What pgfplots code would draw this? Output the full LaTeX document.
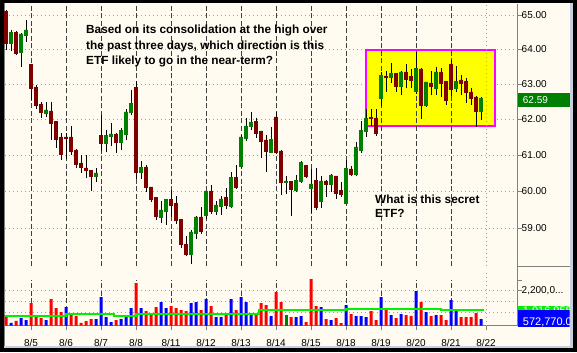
\documentclass[border=0pt]{standalone}
\usepackage{pgfplots}
\pgfplotsset{compat=1.18}
\usepackage{pgfplotstable}
\usepackage{fontspec}
\setmainfont{Liberation Sans}
\definecolor{bg}{HTML}{FFFBF0}
\definecolor{axgray}{HTML}{808080}
\definecolor{gridgray}{HTML}{A0A0A0}
\definecolor{daycol}{HTML}{404040}
\definecolor{cgreen}{HTML}{008000}
\definecolor{cred}{HTML}{800000}
\definecolor{vred}{HTML}{FF0000}
\definecolor{vblue}{HTML}{0000FF}
\definecolor{mag}{HTML}{FF00FF}
\definecolor{yel}{HTML}{FFFF00}
\definecolor{lime}{HTML}{00F000}
\definecolor{edge}{HTML}{C8D0E0}
\pgfdeclareplotmark{wick}{%
  \pgfpathmoveto{\pgfpointorigin}%
  \pgfpathlineto{\pgfpoint{0pt}{\wl bp}}%
  \pgfusepathqstroke}
\pgfdeclareplotmark{body}{%
  \pgfpathrectangle{\pgfpoint{-1.7bp}{0pt}}{\pgfpoint{3.4bp}{\bh bp}}%
  \pgfusepathqfill}
\pgfplotstableread{
i o h l c v vc
0 65.12 65.15 63.98 64.17 0.66 0
1 64.16 64.56 63.95 64.50 0.17 1
2 64.50 64.53 63.83 63.86 0.30 0
3 63.88 64.47 63.50 64.45 0.47 1
4 64.40 64.85 64.21 64.57 0.34 1
5 63.57 63.58 62.54 62.85 1.42 0
6 62.91 62.97 62.29 62.37 0.61 0
7 62.43 62.49 62.04 62.16 0.47 0
8 62.14 62.49 62.07 62.26 0.34 1
9 62.23 62.49 61.42 61.86 1.67 0
10 61.94 61.95 61.20 61.42 1.10 0
11 61.51 61.60 60.87 60.99 0.85 0
12 61.51 61.60 60.88 61.44 1.17 1
13 61.51 61.81 61.00 61.07 0.66 0
14 61.15 61.16 60.63 60.72 0.61 0
15 60.79 61.00 60.49 60.65 0.17 0
16 60.65 61.00 60.35 60.56 0.28 0
17 60.58 60.59 60.01 60.38 0.40 0
18 60.38 60.63 60.26 60.51 0.40 1
19 61.55 62.11 61.12 61.30 1.80 1
20 61.30 61.69 61.07 61.55 0.53 1
21 61.49 61.90 61.25 61.58 0.21 1
22 61.58 61.62 61.06 61.32 0.34 0
23 61.32 61.74 61.14 61.69 0.40 1
24 61.55 62.28 61.42 62.21 0.61 1
25 62.18 62.83 62.11 62.45 1.10 1
26 62.91 63.09 60.33 60.51 2.69 0
27 60.49 60.84 60.33 60.66 1.10 1
28 60.67 60.72 59.99 60.08 0.91 0
29 60.12 60.13 59.71 59.76 0.72 0
30 59.84 59.85 59.22 59.31 1.17 0
31 59.27 59.74 59.13 59.49 1.48 1
32 59.45 59.78 59.09 59.78 1.10 1
33 59.78 60.03 59.31 59.60 1.23 0
34 59.67 59.87 59.12 59.20 1.10 0
35 59.24 59.25 58.47 58.55 0.97 0
36 58.58 58.78 58.27 58.29 0.91 0
37 58.29 58.95 58.05 58.90 1.42 1
38 58.85 59.34 58.72 59.31 1.48 1
39 59.31 59.58 58.85 58.91 0.97 0
40 59.33 60.02 59.25 60.01 1.67 1
41 60.01 60.17 59.39 59.45 1.23 0
42 59.45 59.74 59.36 59.63 0.53 1
43 59.58 59.87 59.35 59.79 0.53 1
44 59.84 60.08 59.51 59.60 0.78 0
45 59.58 60.52 59.54 60.38 1.67 1
46 60.38 60.72 60.06 60.08 0.97 0
47 60.66 61.55 60.65 61.50 1.80 1
48 61.44 62.02 61.40 61.81 1.48 1
49 61.79 62.19 61.69 61.92 0.66 1
50 61.94 62.02 61.48 61.59 0.78 0
51 61.67 61.68 60.91 61.37 1.42 0
52 61.42 61.55 60.54 61.09 1.29 0
53 61.05 61.79 61.04 61.44 0.59 1
54 62.06 62.20 61.03 61.04 2.12 0
55 61.12 61.13 59.90 60.23 1.48 0
56 60.23 60.42 59.92 60.29 0.66 2
57 60.28 60.29 59.33 60.03 0.53 0
58 60.01 60.45 59.99 60.31 0.53 1
59 60.26 60.84 60.23 60.79 0.59 1
60 60.72 60.73 60.35 60.38 0.21 0
61 60.06 60.60 59.40 60.21 2.94 0
62 60.31 60.63 59.49 59.54 1.23 0
63 59.72 60.42 59.54 60.29 1.17 1
64 60.29 60.30 59.85 60.17 0.40 0
65 60.17 60.47 59.99 60.45 0.34 1
66 60.42 60.43 59.80 59.92 0.47 0
67 60.03 60.26 59.84 59.90 0.15 0
68 59.66 60.86 59.65 60.63 1.29 1
69 60.62 60.69 60.42 60.45 0.72 0
70 60.45 61.37 60.43 61.23 0.59 1
71 61.12 61.95 61.06 61.69 0.59 1
72 61.65 62.30 61.51 62.02 0.53 1
73 62.05 62.30 61.80 61.99 0.91 0
74 62.04 62.30 61.53 61.58 0.34 0
75 62.57 63.35 62.38 63.25 1.80 1
76 63.24 63.37 62.78 63.16 0.97 0
77 63.16 63.60 63.04 63.31 0.66 1
78 63.30 63.32 62.78 62.92 0.47 0
79 62.92 63.37 62.67 63.35 0.72 1
80 63.35 63.57 62.88 63.11 0.66 0
81 63.22 63.43 62.88 63.08 0.59 0
82 62.76 63.91 62.71 63.45 2.18 1
83 63.44 63.45 62.00 62.38 1.48 0
84 62.38 63.07 62.34 63.06 0.85 1
85 63.03 63.37 62.67 62.92 0.59 0
86 62.86 63.49 62.67 63.35 0.66 1
87 63.35 63.46 62.63 63.01 0.66 0
88 63.07 63.10 62.39 62.50 0.34 0
89 63.57 63.69 62.66 62.83 1.61 1
90 62.86 63.51 62.76 63.08 0.91 1
91 63.11 63.25 62.67 62.99 0.53 0
92 63.07 63.18 62.46 62.73 0.53 0
93 62.78 62.88 62.40 62.57 0.53 0
94 62.63 62.64 61.79 62.21 0.78 0
95 62.21 62.62 61.97 62.59 0.40 1
}\candles
\begin{document}
\begin{tikzpicture}[x=1bp,y=1bp]
\fill[black] (0,0) rectangle (577,352);
\fill[edge] (4,4.5) rectangle (572.5,348.5);
\fill[bg] (4,6) rectangle (569.5,348.5);
\draw[axgray, line width=1bp] (4.5,6) -- (4.5,348.5);
% ---------- price panel (log price scale through a coordinate transform) ----------
\begin{axis}[
  at={(5bp,86bp)}, anchor=south west, scale only axis,
  width=512bp, height=262bp,
  y coord trafo/.code={\pgfmathparse{100*ln(#1)}},
  y coord inv trafo/.code={\pgfmathparse{exp(#1/100)}},
  xmin=-0.2, xmax=102.2, ymin=58.0, ymax=65.33,
  axis x line=none, axis y line*=right,
  axis line style={draw=axgray, line width=1bp},
  ytick={59,60,61,62,63,64,65},
  yticklabels={59.00,60.00,61.00,62.00,63.00,64.00,65.00},
  ymajorgrids, grid style={draw=gridgray, line width=0.9bp, dash pattern=on 1bp off 3bp},
  tick align=outside, major tick length=4.5bp,
  ytick style={draw=axgray, line width=1bp},
  yticklabel style={font=\fontsize{10bp}{12bp}\selectfont, anchor=west, inner sep=0pt},
  clip=false,
]
\draw[line width=2bp, draw=mag, fill=yel] (axis cs:71.94,61.83) rectangle (axis cs:97.8,63.98);
\pgfplotsinvokeforeach{5,12,19,26,33,40,47,54,61,68,75,82,89}{
  \draw[daycol, line width=1bp, dash pattern=on 5bp off 2.5bp] (axis cs:#1,58.0) -- (axis cs:#1,65.33);
}
\draw[gridgray, line width=0.9bp, dash pattern=on 1bp off 3bp] (axis cs:96,58.0) -- (axis cs:96,65.33);
% wicks: low to high
\addplot[only marks, mark=wick, mark options={draw=black, line width=1bp, solid}, forget plot,
  visualization depends on={2200.9*ln(\thisrow{h}/\thisrow{l}) \as \wl}]
  table[x=i, y=l] {\candles};
% green bodies
\addplot[only marks, mark=body, mark options={fill=cgreen, draw=none}, forget plot,
  visualization depends on={2200.9*max(0,ln(\thisrow{c}/\thisrow{o})) \as \bh}]
  table[x=i, y=o] {\candles};
% red bodies
\addplot[only marks, mark=body, mark options={fill=cred, draw=none}, forget plot,
  visualization depends on={2200.9*max(0,ln(\thisrow{o}/\thisrow{c})) \as \bh}]
  table[x=i, y=c] {\candles};
\end{axis}
% ---------- volume panel ----------
\begin{axis}[
  at={(5bp,26.5bp)}, anchor=south west, scale only axis,
  width=512bp, height=59.5bp,
  xmin=-0.2, xmax=102.2, ymin=0, ymax=3.77,
  axis x line*=bottom, axis y line*=right,
  axis line style={draw=axgray, line width=1bp},
  xtick={5,12,19,26,33,40,47,54,61,68,75,82,89,96},
  xticklabels={8/5,8/6,8/7,8/8,8/11,8/12,8/13,8/14,8/15,8/18,8/19,8/20,8/21,8/22},
  xtick style={draw=axgray, line width=1bp},
  xticklabel style={font=\fontsize{10bp}{12bp}\selectfont, anchor=base, inner sep=0pt, yshift=-16bp},
  ytick={2.2,2.88}, yticklabels={{2,200,0.{}.{}.},{}},
  tick align=outside, major tick length=4.5bp,
  ytick style={draw=axgray, line width=1bp},
  yticklabel style={font=\fontsize{10bp}{12bp}\selectfont, anchor=west, inner sep=0pt},
  clip=false,
]
\pgfplotsinvokeforeach{0.8,1.5,2.2}{
  \draw[gridgray, line width=0.9bp, dash pattern=on 1bp off 3bp] (axis cs:-0.2,#1) -- (axis cs:102.2,#1);
}
\pgfplotsinvokeforeach{5,12,19,26,33,40,47,54,61,68,75,82,89}{
  \draw[daycol, line width=1bp, dash pattern=on 5bp off 2.5bp] (axis cs:#1,0) -- (axis cs:#1,2.88);
}
\draw[gridgray, line width=0.9bp, dash pattern=on 1bp off 3bp] (axis cs:96,0) -- (axis cs:96,3.4);
\addplot[ybar, bar width=3bp, bar shift=0pt, fill=vred, draw=none, forget plot,
  restrict expr to domain={\thisrow{vc}}{-0.5:0.5}] table[x=i, y=v] {\candles};
\addplot[ybar, bar width=3bp, bar shift=0pt, fill=vblue, draw=none, forget plot,
  restrict expr to domain={\thisrow{vc}}{0.5:1.5}] table[x=i, y=v] {\candles};
\addplot[ybar, bar width=3bp, bar shift=0pt, fill=cgreen, draw=none, forget plot,
  restrict expr to domain={\thisrow{vc}}{1.5:2.5}] table[x=i, y=v] {\candles};
\addplot[const plot, lime, line width=2bp, mark=none, forget plot] coordinates {
  (-0.2,0.61) (12,0.70) (21.5,0.59) (26,0.76) (50.5,0.97) (68,1.07) (87,0.98) (95.5,0.98)};
\end{axis}
% ---------- right-hand labels ----------
\draw[axgray, line width=1bp] (517,86) -- (569.5,86);
\fill[cgreen] (517.5,245.3) rectangle (569.5,258.7);
\node[anchor=base west, inner sep=0pt, text=white, font=\fontsize{10bp}{12bp}\selectfont] at (522.7,248.3) {62.59};
\begin{scope}
\clip (517.5,20) rectangle (569.5,50);
\fill[lime] (517.5,37) rectangle (569.5,46);
\node[anchor=base west, inner sep=0pt, text=white, font=\fontsize{11bp}{13bp}\selectfont] at (522.7,37.3) {1,016,958};
\fill[vblue] (517.5,24.7) rectangle (569.5,41.7);
\node[anchor=base west, inner sep=0pt, text=white, font=\fontsize{11bp}{13bp}\selectfont] at (522.7,26.7) {572,770.0};
\end{scope}
% ---------- annotations ----------
\begin{scope}[every node/.style={anchor=base west, inner sep=0pt, font=\fontsize{11.8bp}{14bp}\selectfont\bfseries}]
\node at (86,318.3) {Based on its consolidation at the high over};
\node at (86,303) {the past three days, which direction is this};
\node at (86,287.7) {ETF likely to go in the near-term?};
\node at (375,149) {What is this secret};
\node at (375,134.3) {ETF?};
\end{scope}
\end{tikzpicture}
\end{document}
